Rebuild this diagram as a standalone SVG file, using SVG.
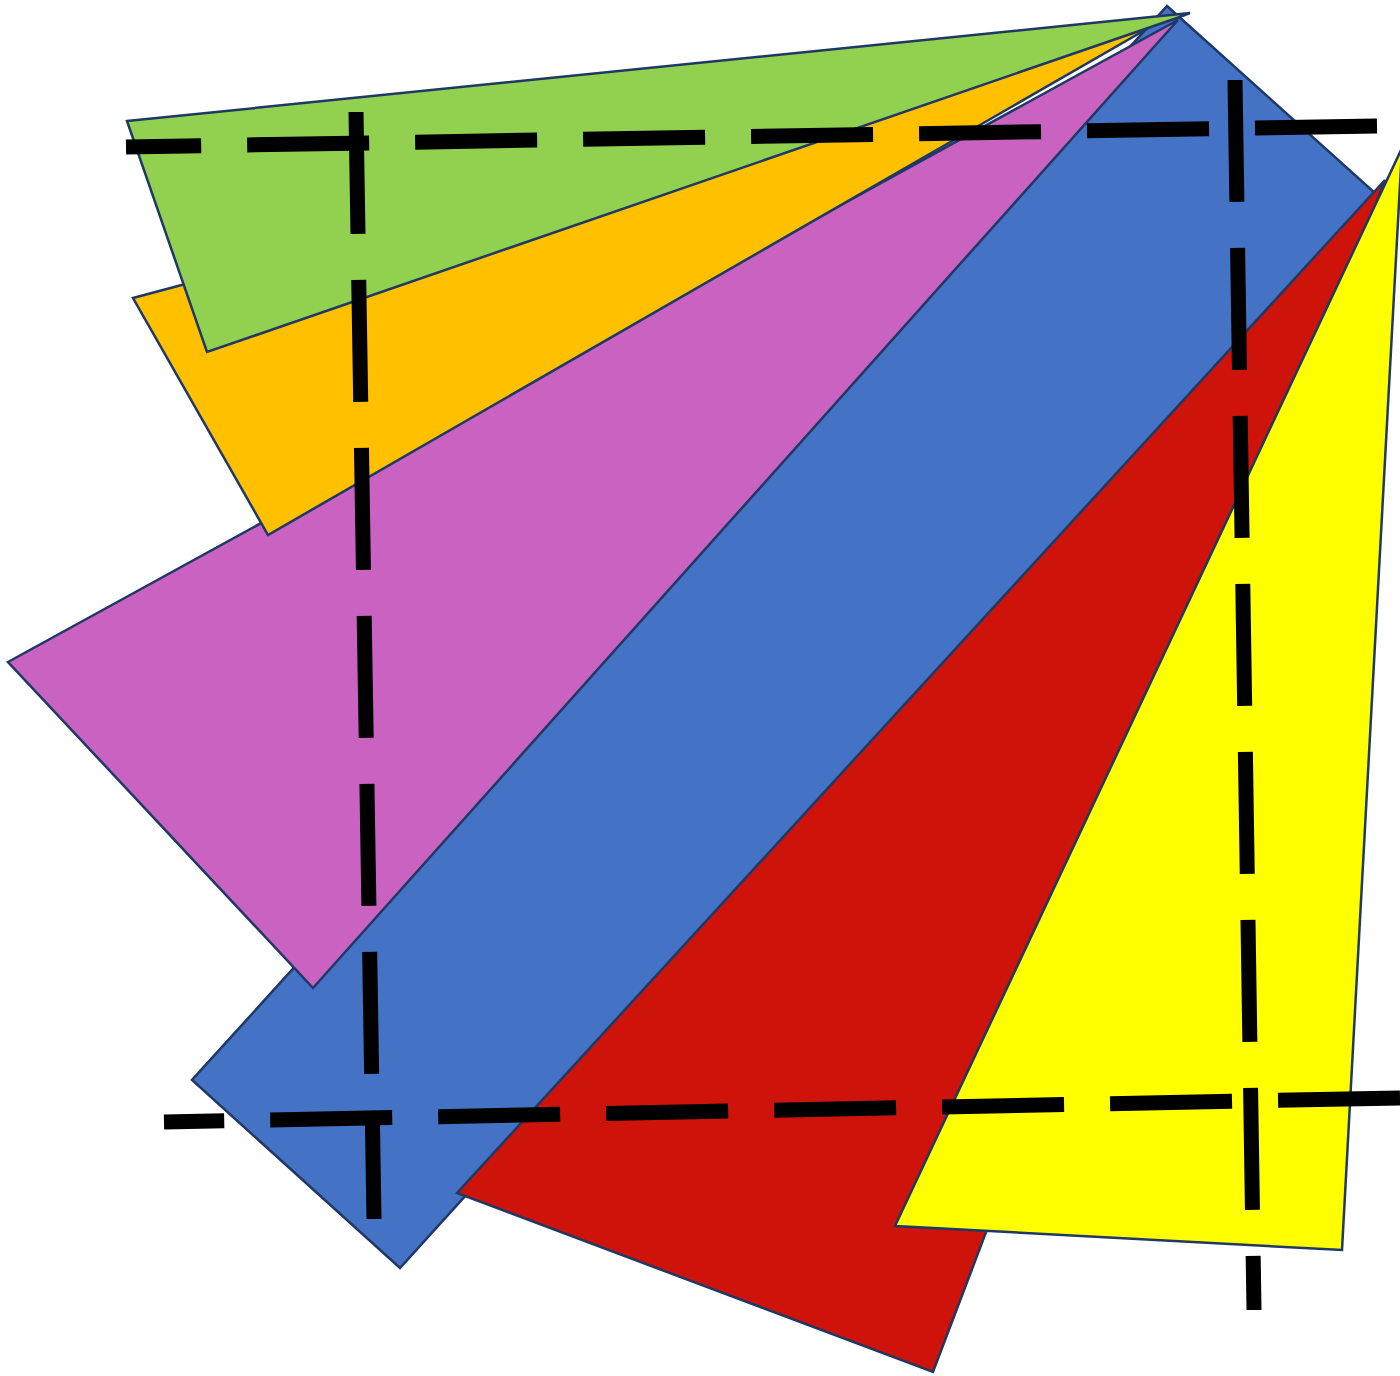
<svg xmlns="http://www.w3.org/2000/svg" width="1400" height="1376" viewBox="0 0 1400 1376">
  <style>
    .shape { stroke: #1F3864; stroke-width: 2.5; stroke-linejoin: miter; }
    .dash { fill: none; stroke: #000000; stroke-width: 15; stroke-dasharray: 122 46; stroke-linecap: butt; }
  </style>
  <rect x="0" y="0" width="1400" height="1376" fill="#FFFFFF"/>
  <g id="shapes">
    <polygon id="blue" class="shape" fill="#4472C4" points="1167,6 1375,193 400,1268 192,1080"/>
    <polygon id="red" class="shape" fill="#CE130A" points="1385,180 457,1193 933,1372"/>
    <polygon id="yellow" class="shape" fill="#FFFF00" points="1402,148 895,1226 1342,1250"/>
    <polygon id="pink" class="shape" fill="#C962C0" points="8,662 1178,20 313,988"/>
    <polygon id="orange" class="shape" fill="#FFC000" points="133,298 1152,26 268,535"/>
    <polygon id="green" class="shape" fill="#92D050" points="127,121 1190,13 1177,18 207,352"/>
  </g>
  <g id="dashed-lines">
    <path class="dash" d="M1377,126 L126,147"/>
    <path class="dash" d="M1400,1098 L164,1122"/>
    <path class="dash" d="M356,112 L374,1219"/>
    <path class="dash" d="M1235,80 L1254,1310"/>
  </g>
</svg>
